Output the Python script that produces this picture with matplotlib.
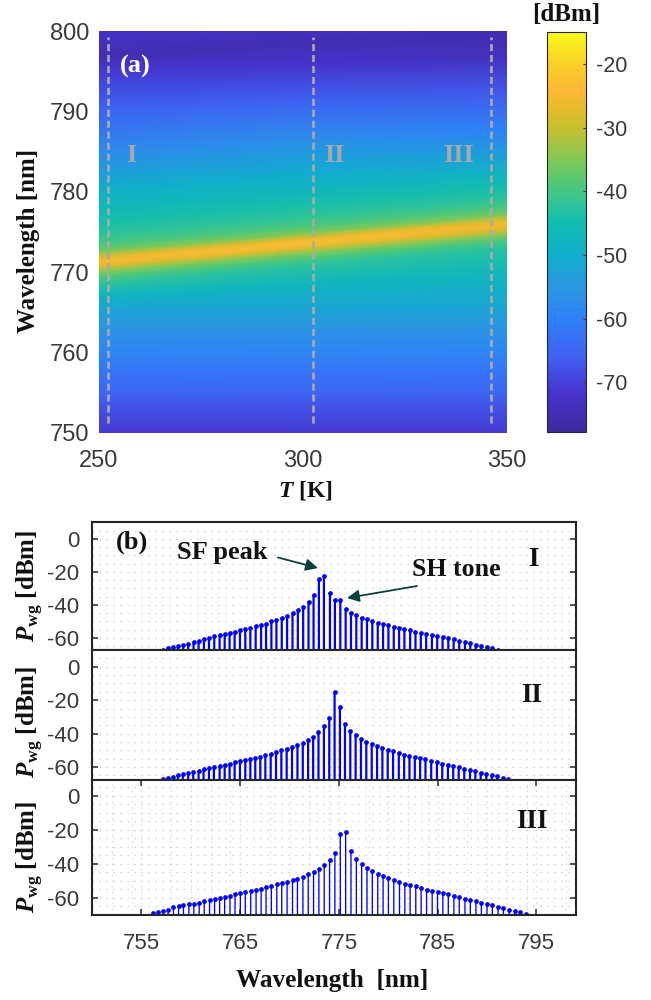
import matplotlib
matplotlib.use("Agg")
import numpy as np
import matplotlib.pyplot as plt
from matplotlib.colors import LinearSegmentedColormap

plt.rcParams['font.family'] = ['Liberation Sans', 'DejaVu Sans']
plt.rcParams['axes.unicode_minus'] = False
plt.rcParams['mathtext.fontset'] = 'custom'
plt.rcParams['mathtext.bf'] = 'Liberation Serif:bold'
plt.rcParams['mathtext.bfit'] = 'Liberation Serif:italic:bold'
plt.rcParams['mathtext.rm'] = 'Liberation Serif:bold'

# panel (a): map values read along three temperature columns
heat_T = [250, 300, 350]
heat_wl_250 = [748, 750, 753, 755, 758, 760, 763, 765, 767, 768.5, 769.5, 770.1, 770.7, 771.3,
               771.9, 772.5, 773.3, 774.5, 776, 778, 780, 785, 790, 795, 796.8, 800, 802]
heat_z_250 = [-73, -71, -68, -65, -61.5, -59, -55.5, -53, -48, -42.5, -38.5, -34.5, -28, -24.5,
              -28, -35, -39, -42, -44, -46.5, -49, -58, -65, -71, -75, -72.5, -72]
heat_wl_300 = [748, 750, 753, 755, 758, 760, 763, 765.5, 768.5, 770.8, 771.8, 772.4, 773, 773.6,
               774.2, 774.8, 775.6, 776.8, 778.3, 780, 782, 786.5, 791, 796, 798.5, 800.5, 802]
heat_z_300 = [-73, -71, -68, -65, -61.5, -59, -55.5, -52, -47.5, -42.5, -38.5, -34.5, -27.5, -23,
              -27.5, -35, -39, -42, -44, -47, -50, -57, -65, -72, -75, -73.5, -73]
heat_wl_350 = [748, 750, 753, 755, 758, 760, 763, 766, 770, 773.1, 774.1, 774.7, 775.3, 775.9,
               776.5, 777.1, 777.9, 779, 780.5, 782, 784, 788, 792.5, 797, 799.5, 801, 802]
heat_z_350 = [-73, -71, -68, -65, -61.5, -59, -55.5, -51.5, -47, -42.5, -38.5, -34.5, -28, -25,
              -28, -35, -39, -42, -44.5, -47.5, -52, -60, -67, -74, -75, -74, -74]
cut_T = [252.2, 302.4, 346.3]
cut_names = ['I', 'II', 'III']
cbar_ticks = [-20, -30, -40, -50, -60, -70]

cmap_levels = [-77.8, -72, -66, -60, -55, -50, -45, -42, -38, -34, -30, -27, -24, -20, -15]
cmap_colors = ['#3f2a9c', '#4632cc', '#4060f2', '#2f80f8', '#2a98e0', '#10aecc', '#10bdb0', '#2fc49a',
               '#5ac870', '#8fc850', '#c6bf2c', '#e6ba2e', '#fdb836', '#f9d027', '#f8fa1a']

# panel (b): spectra at the three cuts
wl_1 = [757.17, 757.67, 758.18, 758.69, 759.23, 759.74, 760.28, 760.79, 761.33, 761.84, 762.38,
        762.92, 763.43, 763.93, 764.44, 764.98, 765.52, 766.03, 766.57, 767.12, 767.62, 768.16,
        768.67, 769.21, 769.75, 770.30, 770.84, 771.38, 771.92, 772.43, 772.97, 773.48,
        774.09, 774.59, 775.14, 775.68, 776.22, 776.76, 777.30, 777.84, 778.38, 778.93, 779.47,
        780.01, 780.55, 781.09, 781.63, 782.21, 782.75, 783.29, 783.83, 784.41, 784.95, 785.49,
        786.07, 786.61, 787.18, 787.76, 788.30, 788.84, 789.42, 789.96, 790.53, 791.07]
pwg_1 = [-67, -66.3, -65.7, -65, -64.2, -63.4, -62.6, -61.8, -60.8, -59.8, -59,
         -58.2, -57.6, -56.8, -56.2, -55.4, -54.7, -54, -53, -52.1, -51.3, -50,
         -49, -47.9, -46.5, -45, -43, -41, -38, -33.7, -24.4, -22.2,
         -32.5, -37, -37, -42.6, -44.6, -46.3, -47.7, -48.7, -49.7, -50.7, -51.5,
         -52.3, -53.1, -53.9, -54.5, -55.4, -56.2, -56.8, -57.6, -58.4, -59, -59.6,
         -60.2, -60.8, -61.6, -62.6, -63.2, -64, -64.8, -65.5, -66, -67]
wl_2 = [757.17, 757.67, 758.18, 758.69, 759.19, 759.74, 760.25, 760.79, 761.29, 761.84, 762.34,
        762.92, 763.43, 763.93, 764.44, 764.98, 765.52, 766.03, 766.53, 767.04, 767.55, 768.09,
        768.63, 769.17, 769.71, 770.25, 770.80, 771.34, 771.88, 772.39, 772.93, 773.48,
        774.02, 774.56, 775.10, 775.61, 776.15, 776.69, 777.23, 777.77, 778.32, 778.86, 779.40,
        779.94, 780.48, 781.06, 781.60, 782.14, 782.68, 783.22, 783.76, 784.34, 784.92, 785.46,
        786.03, 786.57, 787.12, 787.69, 788.27, 788.81, 789.35, 789.92, 790.47, 791.04, 791.62, 792.16]
pwg_2 = [-67.2, -66.6, -65.8, -65, -64.4, -63.8, -63, -62.2, -61.4, -60.4, -59.8,
         -59.2, -58.6, -58, -57.2, -56.4, -56, -55.2, -54.4, -53.8, -53, -52.2,
         -51, -50, -49, -47.8, -46.6, -45.6, -44, -42, -39.2, -35.6,
         -30.6, -15.2, -24.2, -34.4, -38.2, -40.6, -43, -44.8, -46.4, -47.4, -48.6,
         -49.6, -50.6, -51.6, -52.6, -53.4, -54, -54.8, -55.4, -56.2, -57.2, -58,
         -58.6, -59.4, -60.2, -61, -61.8, -62.4, -63.4, -64.2, -65, -65.6, -66.4, -67]
wl_3 = [756.18, 756.69, 757.20, 757.71, 758.25, 758.76, 759.26, 759.81, 760.31, 760.85, 761.36,
        761.90, 762.41, 762.92, 763.43, 763.97, 764.48, 765.02, 765.52, 766.07, 766.61, 767.12,
        767.62, 768.16, 768.71, 769.21, 769.75, 770.30, 770.80, 771.35, 771.89, 772.43, 772.97,
        773.51, 774.05, 774.59, 775.14, 775.68, 776.22, 776.76, 777.30, 777.84, 778.38, 778.93,
        779.47, 780.01, 780.55, 781.13, 781.67, 782.21, 782.78, 783.32, 783.87, 784.44, 784.98,
        785.52, 786.07, 786.64, 787.18, 787.76, 788.30, 788.87, 789.42, 789.99, 790.53, 791.11,
        791.65, 792.22, 792.80, 793.38, 793.95]
pwg_3 = [-69.2, -68.4, -67.8, -67, -65.7, -65.1, -64.5, -63.9, -63.5, -63, -62.2,
         -61.4, -60.8, -60, -59.5, -58.9, -58.1, -57.5, -56.9, -56.1, -55.4, -54.8,
         -54, -53.2, -52.2, -51.5, -50.7, -49.7, -48.9, -47.6, -46.2, -44.6, -42.9,
         -40.7, -38, -33.9, -22.4, -21.6, -32.7, -37.4, -40.3, -42.7, -44.4, -46,
         -47.4, -48.7, -49.7, -50.9, -51.9, -52.4, -53.4, -54.4, -55.2, -55.9, -56.7,
         -57.5, -58.1, -59, -59.8, -60.6, -61.4, -62.2, -63, -63.7, -64.5, -65.3,
         -66.1, -67, -67.8, -68.6, -69.4]

x_ticks = [755, 765, 775, 785, 795]
x_grid = [752, 754, 755, 758, 760, 762, 764, 765, 768, 770, 772, 774, 775, 778, 780, 782, 784, 785,
          788, 790, 792, 794, 795, 798]
y_ticks = [0, -20, -40, -60]
y_grid = [5, 0, -5, -10, -15, -20, -25, -30, -35, -40, -45, -50, -55, -60, -65]

W, H = 651, 1000
fig = plt.figure(figsize=(W / 100, H / 100), dpi=100)
SERIF = 'Liberation Serif'
TICK = '#3a3a3a'
FRAME = '#262626'
GRID = '#c8c8c8'
ARROW = '#0f4040'


def px_axes(x0, y0, x1, y1):
    return fig.add_axes([x0 / W, 1 - y1 / H, (x1 - x0) / W, (y1 - y0) / H])


def px_text(x, y, s, size, **kw):
    kw.setdefault('family', SERIF)
    kw.setdefault('weight', 'bold')
    kw.setdefault('color', '#111111')
    fig.text(x / W, 1 - y / H, s, fontsize=size, ha='center', va='center', **kw)


# heat map
ax = px_axes(99, 31, 506.5, 432.7)
norm_levels = [(v - cmap_levels[0]) / (cmap_levels[-1] - cmap_levels[0]) for v in cmap_levels]
cmap = LinearSegmentedColormap.from_list('map', list(zip(norm_levels, cmap_colors)), N=512)
heat_wl = np.column_stack([heat_wl_250, heat_wl_300, heat_wl_350])
heat_z = np.column_stack([heat_z_250, heat_z_300, heat_z_350])
heat_x = np.tile(heat_T, (heat_wl.shape[0], 1))
mesh = ax.pcolormesh(heat_x, heat_wl, heat_z, shading='gouraud', cmap=cmap,
                     vmin=cmap_levels[0], vmax=cmap_levels[-1])
ax.set_xlim(250, 350)
ax.set_ylim(750, 800)
ax.set_xticks([250, 300, 350])
ax.set_yticks([750, 760, 770, 780, 790, 800])
ax.tick_params(length=0, labelsize=17, colors=TICK)
ax.tick_params(axis='x', pad=12.5)
ax.tick_params(axis='y', pad=7)
for s in ax.spines.values():
    s.set_visible(False)
for t in cut_T:
    ax.plot([t, t], [751.2, 799.3], color='#aaaaaa', lw=1.9, ls=(0, (2.7, 1.45)))
for x, name in zip([131, 334, 458], cut_names):
    px_text(x, 156, name, 19, color='#a9a9a9')
px_text(135, 66, '(a)', 19, color='white')
px_text(28, 241, 'Wavelength [nm]', 18, rotation=90)
px_text(305, 490, r'$\mathbfit{T}$ [K]', 17)

# colour bar
cax = px_axes(547, 32, 586, 432)
cb = fig.colorbar(mesh, cax=cax)
cb.set_ticks(cbar_ticks)
cb.ax.tick_params(direction='in', length=2.5, width=0.8, labelsize=15.5, colors=TICK, pad=7)
cb.outline.set_linewidth(0.8)
cb.outline.set_edgecolor(FRAME)
px_text(566, 14, '[dBm]', 18)

# spectra
panels = [(522, 650, wl_1, pwg_1, (-67.3, 10.3), 1.6),
          (650, 780, wl_2, pwg_2, (-67.7, 10.0), 1.6),
          (780, 914.7, wl_3, pwg_3, (-70.0, 9.2), 0.95)]
for i, (y0, y1, wl, pwg, ylim, lw) in enumerate(panels):
    a = px_axes(92, y0, 576, y1)
    a.set_xlim(750, 799)
    a.set_ylim(*ylim)
    a.set_axisbelow(True)
    a.set_yticks(y_ticks)
    a.set_yticks(y_grid, minor=True)
    a.grid(True, axis='y', which='both', color=GRID, lw=0.9, ls=(0, (1, 4.6)))
    a.tick_params(axis='y', which='major', direction='in', left=True, right=True, length=4,
                  width=1.2, labelsize=16, colors=TICK, pad=9)
    a.tick_params(axis='y', which='minor', length=0)
    if i == 2:
        a.set_xticks(x_ticks)
        a.set_xticks(x_grid, minor=True)
        a.grid(True, axis='x', which='both', color='#d4d4d4', lw=0.9, ls=(0, (1, 3.5)))
        a.tick_params(axis='x', which='major', direction='in', top=True, bottom=True, length=4,
                      width=1.2, labelsize=16, colors=TICK, pad=13)
        a.tick_params(axis='x', which='minor', length=0)
    else:
        a.set_xticks([])
    markers, stems, base = a.stem(wl, pwg, bottom=-80, linefmt='-', markerfmt='o', basefmt=' ')
    stems.set_color('#0000ff')
    stems.set_linewidth(lw)
    stems.set_snap(False)
    markers.set_color('#0000ff')
    markers.set_markersize(3.4)
    markers.set_markeredgewidth(0)
    for s in a.spines.values():
        s.set_linewidth(1.5)
        s.set_color(FRAME)
        s.set_zorder(5)

for y in [586, 722, 857]:
    px_text(30, y, r'$\mathbfit{P}_{\mathbf{wg}}$ [dBm]', 18, rotation=90)
px_text(132, 542, '(b)', 19)
px_text(222, 552, 'SF peak', 19)
px_text(456, 569, 'SH tone', 18.6)
px_text(533, 560, 'I', 19.5)
px_text(532, 696, 'II', 19.5)
px_text(532, 822, 'III', 19.5)
px_text(332, 981, 'Wavelength  [nm]', 18.2)

overlay = fig.add_axes([0, 0, 1, 1], facecolor='none')
overlay.set_xlim(0, W)
overlay.set_ylim(H, 0)
overlay.axis('off')
for start, end in [((278, 557.5), (318, 568)), ((417, 586), (347, 598))]:
    overlay.annotate('', xy=end, xytext=start,
                     arrowprops=dict(arrowstyle='-|>', color=ARROW, lw=1.3, mutation_scale=18,
                                     shrinkA=0, shrinkB=0))

fig.savefig('out.png', dpi=100)
